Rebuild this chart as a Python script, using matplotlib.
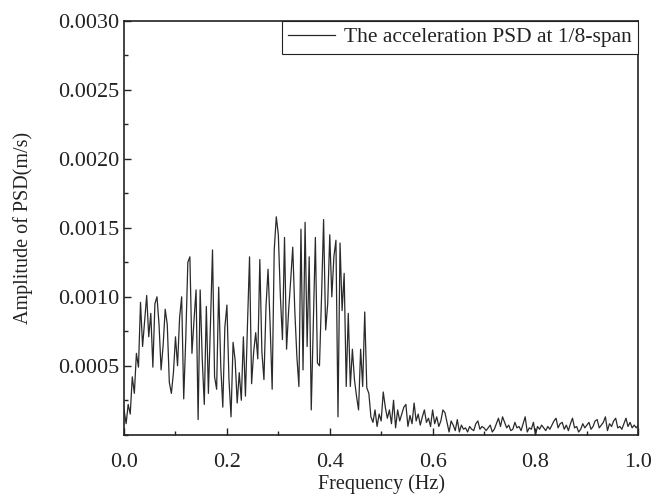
import numpy as np
import matplotlib
matplotlib.use("Agg")
import matplotlib.pyplot as plt
from matplotlib.ticker import MultipleLocator, FormatStrFormatter

plt.rcParams['font.family'] = ['Liberation Serif', 'DejaVu Serif']

# frequency grid (Hz), 0.004 Hz step
freq = np.linspace(0.0, 1.0, 251)

# PSD amplitude in units of 1e-4 m/s
psd_e4 = [
    1.8, 0.8, 2.2, 1.5, 4.2, 3.0, 5.9, 4.9, 9.6, 6.4,
    8.3, 10.1, 7.1, 8.8, 4.9, 9.5, 10.0, 8.0, 4.7, 6.5,
    9.1, 8.0, 3.8, 3.0, 4.5, 7.1, 5.0, 8.5, 10.0, 2.6,
    7.0, 12.5, 12.9, 5.9, 8.3, 10.5, 1.1, 10.5, 5.5, 2.2,
    9.3, 3.0, 8.0, 13.4, 4.2, 3.3, 10.7, 5.0, 2.0, 7.8,
    9.4, 4.0, 1.3, 6.7, 5.4, 2.3, 4.5, 2.5, 7.1, 2.8,
    8.0, 12.9, 3.7, 6.0, 7.4, 5.5, 12.7, 6.0, 4.0, 9.3,
    12.0, 8.0, 3.3, 13.4, 15.8, 14.5, 10.0, 6.9, 14.3, 6.2,
    9.0, 11.2, 13.6, 9.0, 5.7, 3.5, 14.9, 4.7, 15.4, 6.4,
    12.9, 1.8, 8.0, 14.3, 5.2, 5.0, 10.0, 15.6, 7.6, 9.5,
    14.5, 10.0, 12.9, 14.1, 1.3, 13.9, 9.0, 11.7, 3.5, 8.8,
    3.5, 6.2, 4.0, 2.8, 1.8, 6.2, 3.5, 8.9, 3.4, 3.0,
    1.3, 0.9, 1.8, 0.6, 1.5, 1.0, 3.1, 2.0, 1.2, 1.8,
    0.8, 2.5, 0.5, 1.8, 1.0, 1.5, 2.0, 2.2, 0.6, 1.4,
    0.8, 2.3, 1.0, 1.5, 0.7, 1.3, 1.8, 0.9, 1.2, 0.6,
    1.8, 0.8, 1.3, 0.6, 1.0, 1.8, 1.6, 0.9, 0.2, 1.0,
    0.7, 0.3, 1.1, 0.2, 0.7, 0.4, 0.5, 0.2, 0.6, 0.4,
    0.3, 0.8, 1.0, 0.4, 0.6, 0.5, 0.3, 0.5, 0.7, 0.2,
    0.4, 0.8, 1.2, 0.6, 1.3, 0.9, 0.5, 0.7, 0.3, 0.4,
    0.9, 0.5, 0.6, 0.3, 0.8, 1.3, 0.2, 0.5, 0.4, 0.9,
    0.0, 0.6, 0.4, 0.7, 0.5, 0.3, 0.6, 0.4, 0.7, 1.0,
    1.2, 0.5, 0.8, 0.9, 0.4, 0.7, 0.3, 0.8, 1.2, 0.5,
    0.6, 0.2, 0.4, 0.8, 0.5, 0.7, 0.9, 0.4, 0.6, 1.0,
    1.1, 0.5, 0.7, 0.9, 1.3, 0.3, 0.8, 0.6, 1.0, 1.2,
    0.5, 0.6, 0.4, 0.8, 1.2, 0.6, 0.9, 0.5, 0.7, 0.5, 0.7,
]
psd = np.array(psd_e4) * 1e-4

fig = plt.figure(figsize=(6.67, 4.98), dpi=100)
ax = fig.add_axes([0.186, 0.127, 0.771, 0.831])

ax.plot(freq, psd, color='#2a2a2a', lw=0.9,
        label='The acceleration PSD at 1/8-span')

ax.set_xlim(0, 1.0)
ax.set_ylim(0, 0.003)
ax.xaxis.set_major_locator(MultipleLocator(0.2))
ax.xaxis.set_minor_locator(MultipleLocator(0.1))
ax.set_yticks([0.0005, 0.0010, 0.0015, 0.0020, 0.0025, 0.0030])
ax.yaxis.set_minor_locator(MultipleLocator(0.00025))
ax.xaxis.set_major_formatter(FormatStrFormatter('%.1f'))
ax.yaxis.set_major_formatter(FormatStrFormatter('%.4f'))
ax.tick_params(which='both', direction='in', labelsize=16, colors='#222222')
ax.tick_params(which='major', length=5, width=1)
ax.tick_params(which='minor', length=3, width=1)
ax.tick_params(axis='x', which='major', pad=13)
for s in ax.spines.values():
    s.set_linewidth(1.2)
    s.set_color('#222222')

ax.set_xlabel('Frequency (Hz)', fontsize=14.5, color='#222222', labelpad=2)
ax.set_ylabel('Amplitude of PSD(m/s)', fontsize=14.5, color='#222222', labelpad=18)

leg = ax.legend(loc='upper right', fontsize=15.5, fancybox=False, framealpha=1,
                edgecolor='#222222', borderaxespad=0.0, handlelength=2.2,
                borderpad=0.3, handletextpad=0.4)
leg.get_frame().set_linewidth(0.8)
for t in leg.get_texts():
    t.set_color('#222222')

fig.savefig('out.png', dpi=100)
